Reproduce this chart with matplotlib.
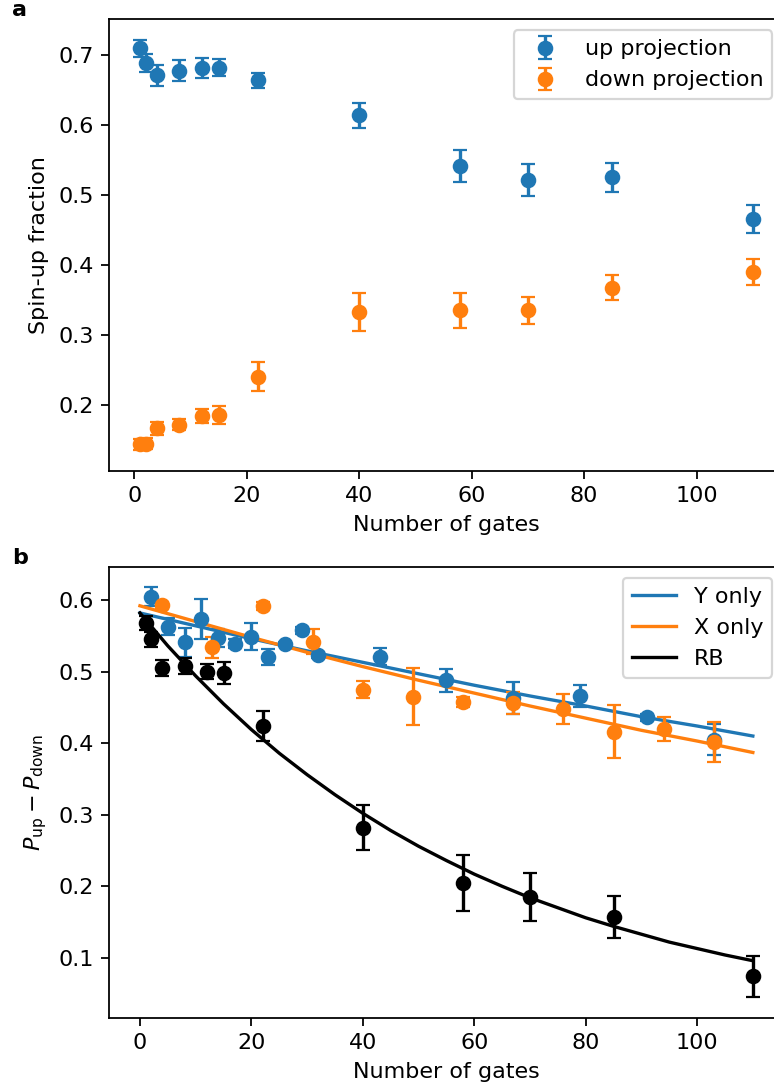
import numpy as np
import matplotlib
matplotlib.use("Agg")
import matplotlib.pyplot as plt

# Panel a: spin-up fraction vs number of gates
gates = [1, 2, 4, 8, 12, 15, 22, 40, 58, 70, 85, 110]
up_proj = [0.710, 0.689, 0.671, 0.678, 0.682, 0.682, 0.664, 0.614, 0.541, 0.521, 0.525, 0.466]
up_err = [0.012, 0.013, 0.015, 0.015, 0.014, 0.012, 0.011, 0.018, 0.023, 0.023, 0.021, 0.020]
down_proj = [0.143, 0.144, 0.166, 0.171, 0.183, 0.185, 0.240, 0.332, 0.335, 0.335, 0.367, 0.390]
down_err = [0.008, 0.008, 0.009, 0.008, 0.010, 0.013, 0.021, 0.027, 0.025, 0.019, 0.018, 0.019]

# Panel b: P_up - P_down
y_gates = [2, 5, 8, 11, 14, 17, 20, 23, 26, 29, 32, 43, 55, 67, 79, 91, 103]
y_only = [0.605, 0.563, 0.541, 0.574, 0.547, 0.539, 0.549, 0.520, 0.539, 0.558, 0.523,
          0.521, 0.488, 0.463, 0.466, 0.436, 0.405]
y_err = [0.013, 0.012, 0.020, 0.028, 0.012, 0.006, 0.019, 0.011, 0.003, 0.005, 0.004,
         0.012, 0.016, 0.022, 0.016, 0.005, 0.022]

x_gates = [4, 13, 22, 31, 40, 49, 58, 67, 76, 85, 94, 103]
x_only = [0.593, 0.534, 0.592, 0.542, 0.475, 0.465, 0.458, 0.456, 0.448, 0.416, 0.420, 0.402]
x_err = [0.005, 0.015, 0.006, 0.017, 0.012, 0.040, 0.007, 0.015, 0.021, 0.037, 0.017, 0.028]

rb = [0.568, 0.545, 0.505, 0.508, 0.500, 0.498, 0.424, 0.282, 0.205, 0.185, 0.157, 0.074]
rb_err = [0.010, 0.010, 0.011, 0.011, 0.010, 0.015, 0.021, 0.031, 0.039, 0.033, 0.029, 0.029]

# fit curves
fit_x = [0, 10, 20, 30, 40, 50, 60, 70, 80, 90, 100, 110]
fit_y_only = [0.582, 0.564, 0.546, 0.529, 0.513, 0.497, 0.481, 0.466, 0.452, 0.437, 0.424, 0.410]
fit_x_only = [0.592, 0.570, 0.548, 0.527, 0.507, 0.488, 0.470, 0.452, 0.435, 0.418, 0.403, 0.387]
rb_fit_x = [0, 5, 10, 15, 20, 25, 30, 35, 40, 45, 50, 55, 60, 65, 70, 75, 80, 85, 90, 95, 100, 105, 110]
rb_fit = [0.582, 0.536, 0.494, 0.455, 0.419, 0.386, 0.356, 0.328, 0.302, 0.278, 0.256, 0.236,
          0.217, 0.200, 0.184, 0.170, 0.156, 0.144, 0.133, 0.122, 0.113, 0.104, 0.096]

W, H, DPI = 774, 1090, 160
fig = plt.figure(figsize=(W / DPI, H / DPI), dpi=DPI)

left = 109.3 / W
width = 674.2 / W
ax1 = fig.add_axes([left, (H - 470.5) / H, width, 451.2 / H])
ax2 = fig.add_axes([left, (H - 1017.7) / H, width, 451.0 / H])

ax1.errorbar(gates, up_proj, yerr=up_err, fmt="o", capsize=3, color="C0", label="up projection")
ax1.errorbar(gates, down_proj, yerr=down_err, fmt="o", capsize=3, color="C1", label="down projection")
ax1.set_xlabel("Number of gates")
ax1.set_ylabel("Spin-up fraction")
ax1.legend(loc="upper right")

ax2.errorbar(y_gates, y_only, yerr=y_err, fmt="o", capsize=3, color="C0")
ax2.plot(fit_x, fit_y_only, color="C0", label="Y only")
ax2.errorbar(x_gates, x_only, yerr=x_err, fmt="o", capsize=3, color="C1")
ax2.plot(fit_x, fit_x_only, color="C1", label="X only")
ax2.errorbar(gates, rb, yerr=rb_err, fmt="o", capsize=3, color="k")
ax2.plot(rb_fit_x, rb_fit, color="k", label="RB")
ax2.set_xlabel("Number of gates")
ax2.set_ylabel(r"$P_{\rm up} - P_{\rm down}$")
ax2.legend(loc="upper right")

fig.text(12 / W, 1 - 16.5 / H, "a", fontweight="bold", va="baseline")
fig.text(12 / W, 1 - 563.5 / H, "b", fontweight="bold", va="baseline")

fig.savefig("out.png", dpi=DPI)
